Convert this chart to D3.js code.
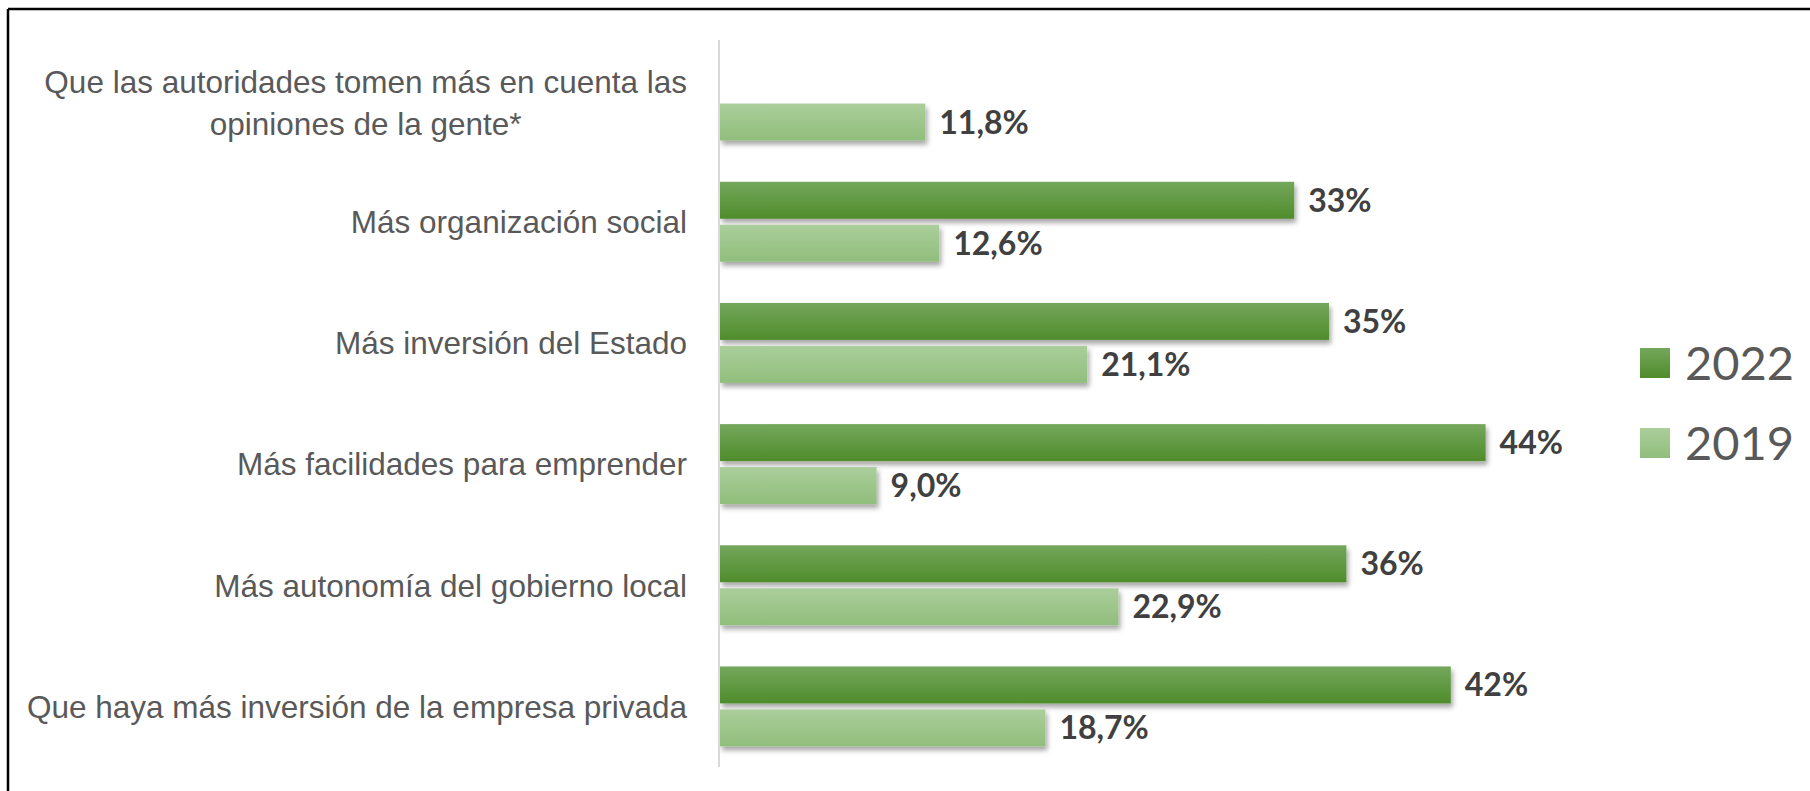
<!DOCTYPE html>
<html>
<head>
<meta charset="utf-8">
<script src="https://cdn.jsdelivr.net/npm/d3@7"></script>
<style>
  body { margin: 0; background: #fff; }
  svg { display: block; }
</style>
</head>
<body>
<div id="chart"></div>
<script>
// data
var categories = [
    "Que las autoridades tomen más en cuenta las|opiniones de la gente*",
    "Más organización social",
    "Más inversión del Estado",
    "Más facilidades para emprender",
    "Más autonomía del gobierno local",
    "Que haya más inversión de la empresa privada"
];
var series = ["2022", "2019"];
var values2022 = [null, 33, 35, 44, 36, 42];
var values2019 = [11.8, 12.6, 21.1, 9.0, 22.9, 18.7];
var labels2022 = ["", "33%", "35%", "44%", "36%", "42%"];
var labels2019 = ["11,8%", "12,6%", "21,1%", "9,0%", "22,9%", "18,7%"];

var W = 1810, H = 791;
var plot = {left: 720, top: 40, bottom: 767};

var svg = d3.select("#chart").append("svg")
    .attr("width", W)
    .attr("height", H);

var defs = svg.append("defs");
var grads = {"2022": ["#74a75c", "#4f8c2b"], "2019": ["#abce9b", "#90be7c"]};
series.forEach(function(s) {
    var g = defs.append("linearGradient")
        .attr("id", "g" + s)
        .attr("x1", 0).attr("y1", 0).attr("x2", 0).attr("y2", 1);
    g.append("stop").attr("offset", "0%").attr("stop-color", grads[s][0]);
    g.append("stop").attr("offset", "100%").attr("stop-color", grads[s][1]);
});
var f = defs.append("filter").attr("id", "shadow")
    .attr("x", "-5%").attr("y", "-20%").attr("width", "115%").attr("height", "160%");
f.append("feDropShadow")
    .attr("dx", 2).attr("dy", 4).attr("stdDeviation", 2.5)
    .attr("flood-color", "#000").attr("flood-opacity", 0.35);

// frame (top + left edges)
svg.append("line").attr("x1", 8).attr("y1", 9).attr("x2", W).attr("y2", 9)
    .attr("stroke", "#000").attr("stroke-width", 2.5);
svg.append("line").attr("x1", 8).attr("y1", 9).attr("x2", 8).attr("y2", H)
    .attr("stroke", "#000").attr("stroke-width", 2.5);

var x = d3.scaleLinear().domain([0, 50]).range([plot.left, plot.left + 870]);
var y = d3.scaleBand().domain(d3.range(categories.length)).range([plot.top, plot.bottom]);
var ySub = d3.scaleBand().domain(series).range([0, y.step()])
    .paddingInner(0.14).paddingOuter(0.48);

var rows = categories.map(function(c, i) {
    return {i: i, cat: c, bars: [
        {s: "2022", v: values2022[i], label: labels2022[i]},
        {s: "2019", v: values2019[i], label: labels2019[i]}
    ]};
});

var groups = svg.selectAll(".grp")
    .data(rows)
    .enter().append("g")
    .attr("class", "grp")
    .attr("transform", function(d) { return "translate(0," + y(d.i) + ")"; });

var bars = groups.selectAll(".bar")
    .data(function(d) { return d.bars.filter(function(b) { return b.v != null; }); })
    .enter();

bars.append("rect")
    .attr("x", x(0))
    .attr("y", function(d) { return ySub(d.s); })
    .attr("width", function(d) { return x(d.v) - x(0); })
    .attr("height", ySub.bandwidth())
    .attr("fill", function(d) { return "url(#g" + d.s + ")"; })
    .attr("filter", "url(#shadow)");

bars.append("text")
    .attr("x", function(d) { return x(d.v) + 14; })
    .attr("y", function(d) { return ySub(d.s) + ySub.bandwidth() / 2; })
    .attr("dy", "0.36em")
    .attr("font-family", "Lato, sans-serif")
    .attr("font-weight", "bold")
    .attr("font-size", 32)
    .attr("fill", "#404040")
    .text(function(d) { return d.label; });

// vertical axis line
svg.append("line")
    .attr("x1", x(0) - 1).attr("x2", x(0) - 1)
    .attr("y1", plot.top).attr("y2", plot.bottom)
    .attr("stroke", "#d9d9d9").attr("stroke-width", 2);

// category labels
var labelRight = 687, lineH = 42;
groups.each(function(d) {
    var lines = d.cat.split("|");
    var t = d3.select(this).append("text")
        .attr("font-family", "'Liberation Sans', Arial, sans-serif")
        .attr("font-size", 31.5)
        .attr("fill", "#595959");
    var cy = y.bandwidth() / 2 + (lines.length > 1 ? 2 : 0);
    lines.forEach(function(l, k) {
        t.append("tspan")
            .attr("y", cy + (k - (lines.length - 1) / 2) * lineH)
            .attr("dy", "0.36em")
            .text(l);
    });
    var maxW = 0;
    t.selectAll("tspan").each(function() { maxW = Math.max(maxW, this.getComputedTextLength()); });
    t.attr("text-anchor", "middle");
    t.selectAll("tspan").attr("x", labelRight - maxW / 2);
});

// legend
var legend = svg.append("g").attr("transform", "translate(1640,348)");
var li = legend.selectAll("g").data(series).enter().append("g")
    .attr("transform", function(d, i) { return "translate(0," + (i * 80) + ")"; });
li.append("rect").attr("width", 30).attr("height", 30)
    .attr("fill", function(d) { return "url(#g" + d + ")"; });
li.append("text")
    .attr("x", 45).attr("y", 15).attr("dy", "0.36em")
    .attr("font-family", "Lato, sans-serif")
    .attr("font-size", 47)
    .attr("fill", "#595959")
    .text(function(d) { return d; });
</script>
</body>
</html>
